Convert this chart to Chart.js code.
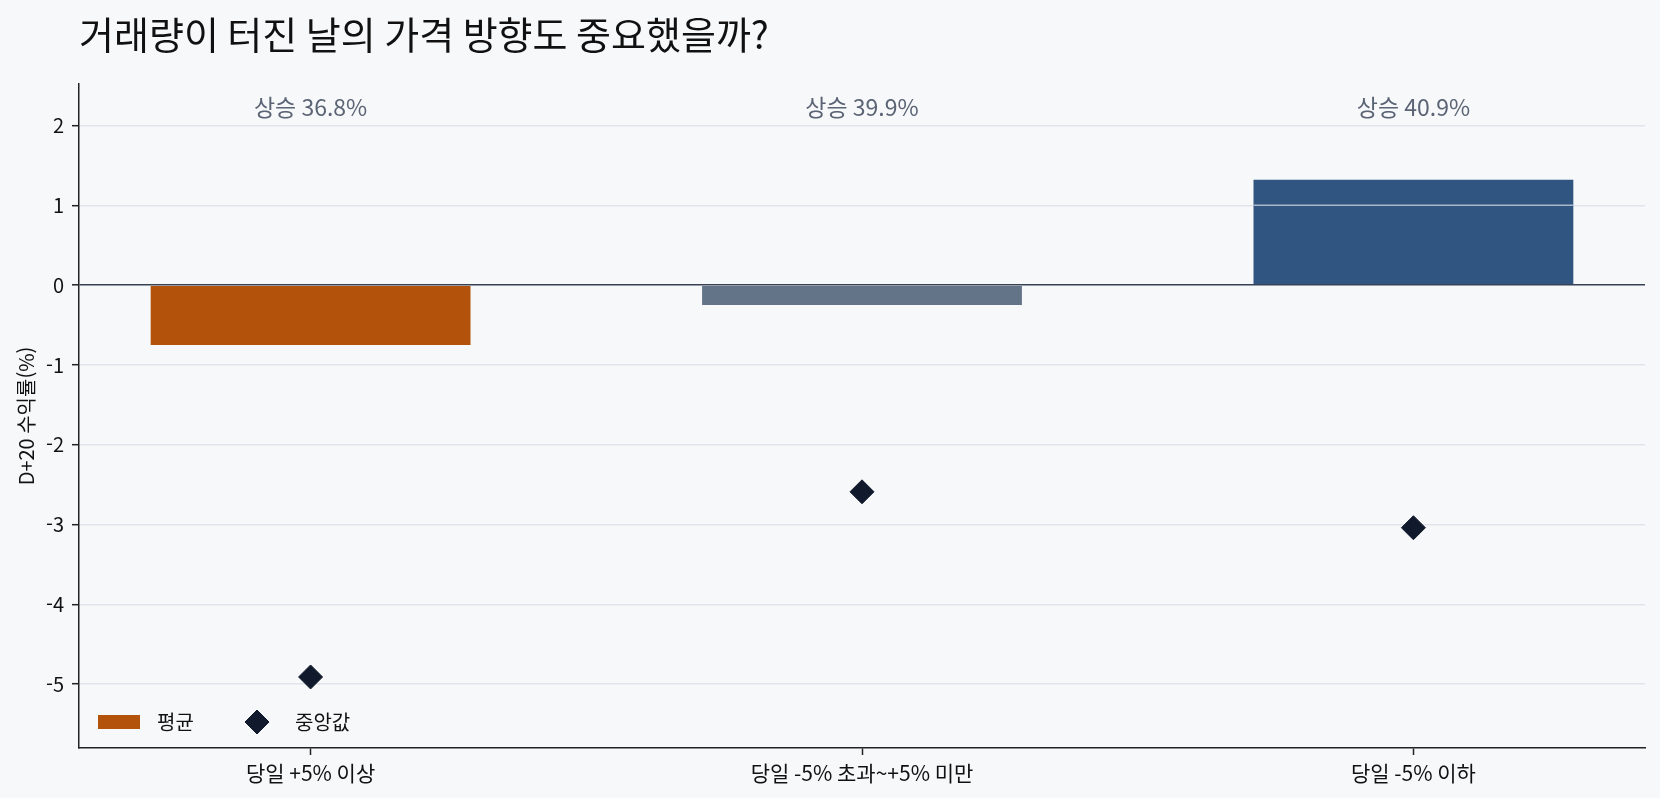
<!DOCTYPE html>
<html lang="ko">
<head>
  <meta charset="UTF-8">
  <title>거래량이 터진 날의 가격 방향도 중요했을까?</title>
  <script src="https://cdn.jsdelivr.net/npm/chart.js@4.4.0/dist/chart.umd.min.js"></script>
  <style>
    html, body {
      margin: 0;
      padding: 0;
      background: #f7f8fa;
    }
    .wrap {
      position: relative;
      width: 1660px;
      height: 798px;
    }
  </style>
</head>
<body>

<div class="wrap">
  <canvas id="chart"></canvas>
</div>

<script>
  // 데이터
  const categories = ['당일 +5% 이상', '당일 -5% 초과~+5% 미만', '당일 -5% 이하'];
  const meanReturns = [-0.75, -0.25, 1.32];
  const medianReturns = [-4.91, -2.59, -3.04];
  const upRates = [36.8, 39.9, 40.9];
  const yTicks = [-5, -4, -3, -2, -1, 0, 1, 2];

  const FONT = '"Noto Sans CJK KR", "Noto Sans", sans-serif';
  const barColors = ['#b3520a', '#637489', '#2f5580'];
  const gridColor = 'rgba(218, 220, 228, 0.72)';
  const zeroColor = '#374151';
  const axisColor = '#222222';

  function lineStyle(value) {
    return value === 0 ? { color: zeroColor, width: 1.6 } : { color: gridColor, width: 1.4 };
  }

  // 막대 위로 보이는 격자선
  const gridOverBars = {
    id: 'gridOverBars',
    afterDatasetDraw(chart, args) {
      if (args.meta.type !== 'bar') return;
      const ctx = chart.ctx;
      const area = chart.chartArea;
      const y = chart.scales.y;
      ctx.save();
      ctx.beginPath();
      args.meta.data.forEach(el => {
        const top = Math.min(el.y, el.base);
        ctx.rect(el.x - el.width / 2, top, el.width, Math.abs(el.y - el.base));
      });
      ctx.clip();
      y.ticks.forEach(t => {
        const s = lineStyle(t.value);
        const py = y.getPixelForValue(t.value);
        ctx.strokeStyle = s.color;
        ctx.lineWidth = s.width;
        ctx.beginPath();
        ctx.moveTo(area.left, py);
        ctx.lineTo(area.right, py);
        ctx.stroke();
      });
      ctx.restore();
    }
  };

  // 상승 비율, 제목, 범례
  const extras = {
    id: 'extras',
    afterDraw(chart) {
      const ctx = chart.ctx;
      const area = chart.chartArea;
      const x = chart.scales.x;

      ctx.save();
      ctx.font = '23px ' + FONT;
      ctx.fillStyle = '#5b6475';
      ctx.textAlign = 'center';
      ctx.textBaseline = 'middle';
      upRates.forEach((r, i) => {
        ctx.fillText('상승 ' + r.toFixed(1) + '%', x.getPixelForValue(i), area.top + 23);
      });

      ctx.font = '38px ' + FONT;
      ctx.fillStyle = '#111111';
      ctx.textAlign = 'left';
      ctx.fillText('거래량이 터진 날의 가격 방향도 중요했을까?', 79, 35);

      // 범례
      const ly = area.bottom - 26;
      const barSet = chart.data.datasets[1];
      const medSet = chart.data.datasets[0];
      ctx.fillStyle = barSet.backgroundColor[0];
      ctx.fillRect(area.left + 19, ly - 7, 42, 14);
      ctx.font = '20px ' + FONT;
      ctx.fillStyle = '#111111';
      ctx.fillText(barSet.label, area.left + 78, ly);
      ctx.fillStyle = medSet.backgroundColor;
      ctx.strokeStyle = medSet.borderColor;
      ctx.lineWidth = 1;
      ctx.beginPath();
      ctx.moveTo(area.left + 178 - 12, ly);
      ctx.lineTo(area.left + 178, ly - 12);
      ctx.lineTo(area.left + 178 + 12, ly);
      ctx.lineTo(area.left + 178, ly + 12);
      ctx.closePath();
      ctx.fill();
      ctx.stroke();
      ctx.fillStyle = '#111111';
      ctx.fillText(medSet.label, area.left + 216, ly);
      ctx.restore();
    }
  };

  new Chart(document.getElementById('chart'), {
    type: 'bar',
    data: {
      datasets: [
        {
          type: 'scatter',
          label: '중앙값',
          data: medianReturns.map((v, i) => ({ x: i, y: v })),
          pointStyle: 'rectRot',
          pointRadius: 12,
          pointHoverRadius: 12,
          backgroundColor: '#111a2c',
          borderColor: '#111a2c',
          borderWidth: 1,
          order: 1
        },
        {
          type: 'bar',
          label: '평균',
          data: meanReturns.map((v, i) => ({ x: i, y: v })),
          backgroundColor: barColors,
          borderWidth: 0,
          categoryPercentage: 1,
          barPercentage: 0.58,
          order: 2
        }
      ]
    },
    options: {
      responsive: true,
      maintainAspectRatio: false,
      animation: false,
      layout: {
        padding: { top: 84, right: 15, left: 0, bottom: 0 }
      },
      plugins: {
        legend: { display: false },
        tooltip: { enabled: false },
        title: { display: false }
      },
      scales: {
        x: {
          type: 'linear',
          offset: false,
          min: -0.42,
          max: 2.42,
          afterBuildTicks: s => { s.ticks = categories.map((c, i) => ({ value: i })); },
          afterFit: s => { s.height = 50; },
          grid: {
            offset: false,
            drawOnChartArea: false,
            drawTicks: true,
            tickLength: 7,
            tickColor: axisColor,
            tickWidth: 1.5
          },
          border: { display: true, color: axisColor, width: 1.5 },
          ticks: {
            padding: 5,
            color: '#111111',
            font: { family: FONT, size: 21 },
            maxRotation: 0,
            autoSkip: false,
            callback: v => categories[v]
          }
        },
        y: {
          min: -5.8,
          max: 2.52,
          afterBuildTicks: s => { s.ticks = yTicks.map(v => ({ value: v })); },
          afterFit: s => { s.width = 79; },
          grid: {
            color: ctx => lineStyle(ctx.tick.value).color,
            lineWidth: ctx => lineStyle(ctx.tick.value).width,
            drawTicks: true,
            tickLength: 7,
            tickColor: axisColor,
            tickWidth: 1.5
          },
          border: { display: true, color: axisColor, width: 1.5 },
          ticks: {
            padding: 8,
            color: '#111111',
            font: { family: FONT, size: 20 },
            callback: v => String(v)
          },
          title: {
            display: true,
            text: 'D+20 수익률(%)',
            color: '#111111',
            font: { family: FONT, size: 20 },
            padding: { top: 14, bottom: 0 }
          }
        }
      }
    },
    plugins: [gridOverBars, extras]
  });
</script>

</body>
</html>
